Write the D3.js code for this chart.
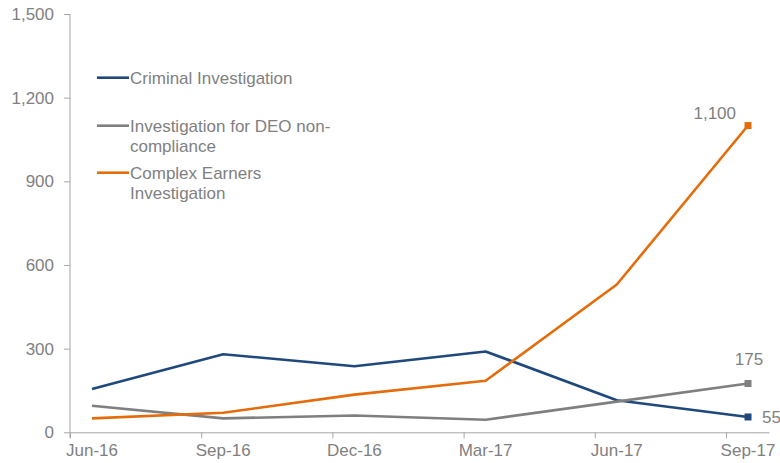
<!DOCTYPE html>
<html>
<head>
<meta charset="utf-8">
<script src="https://cdn.jsdelivr.net/npm/d3@7"></script>
<style>
  html, body { margin: 0; padding: 0; background: #ffffff; }
  svg { display: block; font-family: "Liberation Sans", Arial, sans-serif; }
</style>
</head>
<body>
<svg id="chart" width="780" height="463"></svg>
<script>
// Quarterly investigation counts
const quarters = ["Jun-16", "Sep-16", "Dec-16", "Mar-17", "Jun-17", "Sep-17"];
const criminal = [155, 280, 237, 290, 115, 55];
const deoNonCompliance = [95, 50, 60, 45, 110, 175];
const complexEarners = [50, 70, 135, 185, 530, 1100];
const yTicks = [0, 300, 600, 900, 1200, 1500];

const seriesNames = ["Criminal Investigation", "Investigation for DEO non-compliance", "Complex Earners Investigation"];
const legendLines = [["Criminal Investigation"], ["Investigation for DEO non-", "compliance"], ["Complex Earners", "Investigation"]];
const seriesValues = [criminal, deoNonCompliance, complexEarners];
const seriesColors = ["#1F497D", "#7F7F7F", "#E46C0A"];
// where each end-of-line value label sits relative to its marker
const labelPlacement = ["right", "above", "leftAbove"];

const textColor = "#7F7F7F";
const axisColor = "#A6A6A6";
const fontSize = 17;

const svg = d3.select("#chart");

// x: quarter index; tick marks sit between quarters, points are offset inside each band
const tickOffset = 0.1677;
const x = d3.scaleLinear().domain([-tickOffset, 5.16]).range([70, 769]);
const y = d3.scaleLinear().domain([0, 1500]).range([432.3, 14]);

// y axis
const yAxis = d3.axisLeft(y)
  .tickValues(yTicks)
  .tickFormat(d3.format(","))
  .tickSize(6)
  .tickSizeOuter(0)
  .tickPadding(10);
const gy = svg.append("g").attr("transform", `translate(${x.range()[0]},0)`).call(yAxis);
gy.select(".domain").remove();
gy.selectAll(".tick line").attr("stroke", axisColor);
gy.selectAll(".tick text")
  .attr("fill", textColor)
  .style("font-size", fontSize + "px")
  .style("font-family", "'Liberation Sans', Arial, sans-serif");
gy.append("line")
  .attr("x1", 0).attr("x2", 0)
  .attr("y1", y(1500)).attr("y2", y(0) + 6)
  .attr("stroke", axisColor);

// x axis
const xAxis = d3.axisBottom(x)
  .tickValues(quarters.map((q, i) => i - tickOffset))
  .tickFormat("")
  .tickSize(6)
  .tickSizeOuter(0);
const gx = svg.append("g").attr("transform", `translate(0,${y(0)})`).call(xAxis);
gx.select(".domain").attr("stroke", axisColor);
gx.selectAll(".tick line").attr("stroke", axisColor);
gx.selectAll(".quarter-label")
  .data(quarters)
  .join("text")
  .attr("class", "quarter-label")
  .attr("x", (d, i) => x(i))
  .attr("y", 24)
  .attr("text-anchor", "middle")
  .attr("fill", textColor)
  .style("font-size", fontSize + "px")
  .text(d => d);

// series lines
const line = d3.line().x((d, i) => x(i)).y(d => y(d));
const plot = svg.append("g");
seriesValues.forEach((vals, s) => {
  plot.append("path")
    .datum(vals)
    .attr("fill", "none")
    .attr("stroke", seriesColors[s])
    .attr("stroke-width", 2.6)
    .attr("stroke-linejoin", "round")
    .attr("d", line);
});

// end markers and value labels
const fmt = d3.format(",");
seriesValues.forEach((vals, s) => {
  const last = vals.length - 1;
  const cx = x(last), cy = y(vals[last]);
  plot.append("rect")
    .attr("x", cx - 3.5).attr("y", cy - 3.5)
    .attr("width", 7).attr("height", 7)
    .attr("fill", seriesColors[s]);
  const t = plot.append("text")
    .attr("fill", textColor)
    .style("font-size", fontSize + "px")
    .text(fmt(vals[last]));
  if (labelPlacement[s] === "right") {
    t.attr("x", cx + 14).attr("y", cy + 6).attr("text-anchor", "start");
  } else if (labelPlacement[s] === "above") {
    t.attr("x", cx + 1).attr("y", cy - 18.5).attr("text-anchor", "middle");
  } else {
    t.attr("x", cx - 12).attr("y", cy - 6.5).attr("text-anchor", "end");
  }
});

// legend
const legendRowY = [77.7, 125.7, 172.7];
const legend = svg.append("g");
legendLines.forEach((lines, s) => {
  const g = legend.append("g").attr("transform", `translate(97,${legendRowY[s]})`);
  g.append("line")
    .attr("x1", 0).attr("x2", 32)
    .attr("y1", 0).attr("y2", 0)
    .attr("stroke", seriesColors[s])
    .attr("stroke-width", 2.6);
  const t = g.append("text")
    .attr("x", 33)
    .attr("y", 6)
    .attr("fill", textColor)
    .style("font-size", fontSize + "px");
  lines.forEach((ln, k) => {
    t.append("tspan")
      .attr("x", 33)
      .attr("dy", k === 0 ? 0 : 20.6)
      .text(ln);
  });
});
</script>
</body>
</html>
